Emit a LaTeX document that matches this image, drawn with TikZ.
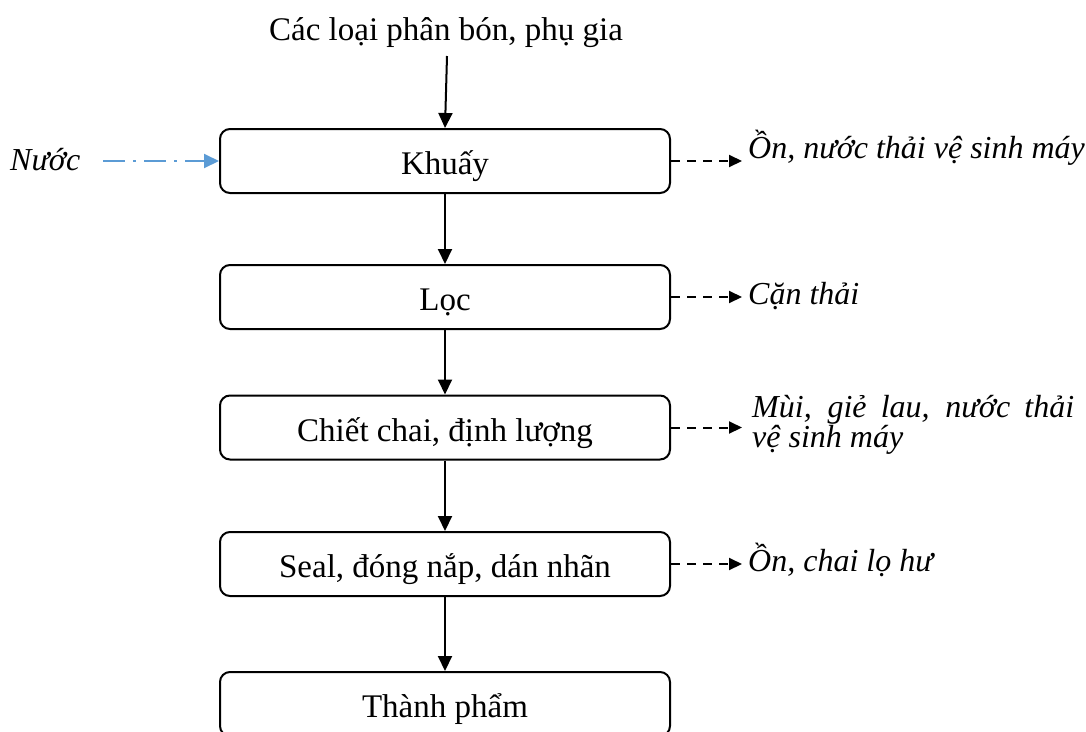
\documentclass[tikz,border=0pt]{standalone}
\usepackage{fontspec}
\setmainfont{Liberation Serif}
\usetikzlibrary{arrows.meta}
\definecolor{waterblue}{RGB}{91,155,213}
\begin{document}
\begin{tikzpicture}[x=1pt,y=-1pt,
  font=\fontsize{33}{37}\selectfont,
  stepbox/.style={draw, line width=2pt, rounded corners=10pt, minimum width=450pt, minimum height=64pt, inner sep=0pt, text height=27pt, text depth=0pt},
  flow/.style={line width=2pt, -{Triangle[length=15pt,width=14pt]}},
  waste/.style={line width=2pt, dash pattern=on 9pt off 7pt, -{Triangle[length=13pt,width=12pt]}},
  water/.style={line width=2pt, waterblue, dash pattern=on 22pt off 8pt on 3pt off 8pt, -{Triangle[length=15pt,width=14pt]}},
  outtext/.style={anchor=base west, font=\fontsize{32}{30}\selectfont\itshape, inner sep=0pt}]
\useasboundingbox (0,0) rectangle (1086,731);
\clip (0,0) rectangle (1086,731);

% main process steps
\node[stepbox] (k) at (445,161) {Khuấy};
\node[stepbox] (l) at (445,297) {Lọc};
\node[stepbox] (c) at (445,427.5) {Chiết chai, định lượng};
\node[stepbox] (s) at (445,564) {Seal, đóng nắp, dán nhãn};
\node[stepbox] (t) at (445,704) {Thành phẩm};

% inputs
\node[anchor=base, inner sep=0pt] (src) at (446,40) {Các loại phân bón, phụ gia};
\node[outtext] (nuoc) at (10,170) {Nước};
\coordinate (wstart) at (103,161);

% outputs
\node[outtext] (o1) at (748,158) {Ồn, nước thải vệ sinh máy};
\node[outtext] (o2) at (748,304) {Cặn thải};
\node[outtext, text width=322pt, align=justify] (o3) at (752,417) {Mùi, giẻ lau, nước thải\linebreak vệ sinh máy};
\node[outtext] (o4) at (748,571) {Ồn, chai lọ hư};

% connectors
\draw[flow] ([xshift=1pt,yshift=-16pt]src.base) -- (k.north);
\draw[flow] (k.south) -- (l.north);
\draw[flow] (l.south) -- (c.north);
\draw[flow] (c.south) -- (s.north);
\draw[flow] (s.south) -- (t.north);
\draw[water] (wstart) -- (k.west);
\draw[waste] (k.east) -- ++(71,0) coordinate (e1);
\draw[waste] (l.east) -- ++(71,0) coordinate (e2);
\draw[waste] (c.east) -- ++(71,0) coordinate (e3);
\draw[waste] (s.east) -- ++(71,0) coordinate (e4);
\end{tikzpicture}
\end{document}
